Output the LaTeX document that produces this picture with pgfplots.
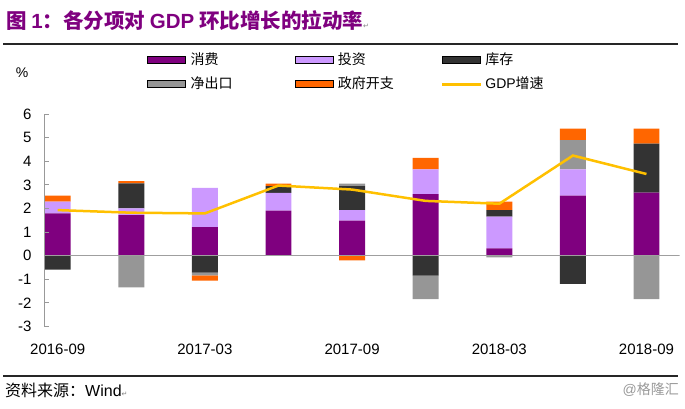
\documentclass[border=0pt]{standalone}
\usepackage{fontspec}
\setmainfont{Liberation Sans}
\newfontfamily\cjk{Noto Sans CJK SC}
\newfontfamily\dejavu{DejaVu Sans}
\usepackage{pgfplots}
\pgfplotsset{compat=1.18}
\usepackage{pgfplotstable}

\definecolor{cPur}{HTML}{7F007F}
\definecolor{cLav}{HTML}{CC99FF}
\definecolor{cDark}{HTML}{333333}
\definecolor{cGray}{HTML}{969696}
\definecolor{cOra}{HTML}{FF6600}
\definecolor{cYel}{HTML}{FFC000}

% contributions to q/q GDP growth, pos/neg parts split for stacking
\pgfplotstableread{
x cons inv invp invn nxp nxn govp govn gdp
0 1.79 0.50 0.00 -0.59 0.00  0.00 0.25  0.00 1.93
1 1.72 0.28 1.06  0.00 0.00 -1.34 0.10  0.00 1.82
2 1.21 1.66 0.00 -0.72 0.00 -0.11 0.00 -0.23 1.79
3 1.91 0.75 0.29  0.00 0.00  0.00 0.10  0.00 2.97
4 1.48 0.45 1.02  0.00 0.10  0.00 0.00 -0.20 2.80
5 2.61 1.05 0.00 -0.85 0.00 -0.99 0.48  0.00 2.32
6 0.31 1.34 0.28  0.00 0.00 -0.07 0.36  0.00 2.20
7 2.54 1.12 0.00 -1.19 1.23  0.00 0.49  0.00 4.24
8 2.67 0.00 2.08  0.00 0.00 -1.84 0.63  0.00 3.46
}\data

\pgfplotsset{
  base/.style={width=635.6pt, height=212.5pt, scale only axis,
    xmin=-0.186, xmax=8.45, ymin=-3, ymax=6,
    at={(44pt,81.5pt)}, anchor=south west},
  bars/.style={base, hide axis, ybar stacked, bar width=0.353},
  barleg/.style={legend image code/.code={\fill[##1] (0pt,-3.5pt) rectangle (38pt,3.5pt);}},
  lineleg/.style={legend image code/.code={\fill[cYel] (0pt,-1pt) rectangle (38pt,1pt);}},
}

\begin{document}
\begin{tikzpicture}
\useasboundingbox (0,0) rectangle (685pt,408pt);

% negative parts
\begin{axis}[bars]
\addplot[fill=cDark, draw=none] table[x=x, y=invn]{\data};
\addplot[fill=cGray, draw=none] table[x=x, y=nxn]{\data};
\addplot[fill=cOra, draw=none] table[x=x, y=govn]{\data};
\end{axis}

% positive parts
\begin{axis}[bars]
\addplot[fill=cPur, draw=none] table[x=x, y=cons]{\data};
\addplot[fill=cLav, draw=none] table[x=x, y=inv]{\data};
\addplot[fill=cDark, draw=none] table[x=x, y=invp]{\data};
\addplot[fill=cGray, draw=none] table[x=x, y=nxp]{\data};
\addplot[fill=cOra, draw=none] table[x=x, y=govp]{\data};
\end{axis}

% axes, zero line, GDP line, legend
\begin{axis}[base,
  axis lines*=left,
  x axis line style={draw=none},
  y axis line style={draw=gray!80, line width=0.8pt},
  xtick={0,2,4,6,8},
  xticklabels={2016-09,2017-03,2017-09,2018-03,2018-09},
  xtick style={draw=none},
  ytick={-3,...,6},
  ytick style={draw=gray!80, line width=0.8pt},
  tick align=inside, major tick length=5pt,
  /pgf/number format/assume math mode=true,
  tick label style={font=\fontsize{15}{18}\selectfont},
  xticklabel style={yshift=-14pt},
  yticklabel style={xshift=-9pt},
  legend columns=3, legend cell align=left,
  legend style={at={(0.162,1.294)}, anchor=north west, draw=none, fill=none,
    inner sep=0pt, row sep=9pt, font=\cjk\fontsize{14}{16}\selectfont,
    nodes={inner sep=1pt},
    /tikz/every odd column/.style={column sep=4pt},
    /tikz/column 2/.style={column sep=61pt},
    /tikz/column 4/.style={column sep=47pt}},
]
\addlegendimage{barleg, fill=cPur}
\addlegendimage{barleg, fill=cLav}
\addlegendimage{barleg, fill=cDark}
\addlegendimage{barleg, fill=cGray}
\addlegendimage{barleg, fill=cOra}
\addlegendimage{lineleg}
\addplot[forget plot, gray!75, line width=0.8pt] coordinates {(-0.186,0) (8.45,0)};
\addplot[forget plot, color=cYel, line width=2.5pt, mark=none] table[x=x, y=gdp]{\data};
\legend{消费, 投资, 库存, 净出口, 政府开支, {\rmfamily GDP}增速}
\end{axis}

% frame text and rules
\node[anchor=west, text=cPur, inner sep=0pt] at (6pt,387pt)
  {\fontsize{20.5}{24}\selectfont{\cjk\bfseries 图 }{\bfseries 1}{\cjk\bfseries ：各分项对 }{\bfseries GDP}{\cjk\bfseries\ 环比增长的拉动率}{\dejavu\color{gray}\fontsize{7}{8}\selectfont ↵}};
\draw[black!85, line width=1.2pt] (3pt,364pt) -- (678pt,364pt);
\node[anchor=center, inner sep=0pt] at (22pt,335pt) {\fontsize{14}{16}\selectfont \%};
\draw[black!85, line width=1.2pt] (3pt,32pt) -- (678pt,32pt);
\node[anchor=west, inner sep=0pt] at (5pt,18pt)
  {\fontsize{16}{18}\selectfont{\cjk 资料来源：}Wind{\dejavu\color{gray}\fontsize{7}{8}\selectfont ↵}};
\node[anchor=east, inner sep=0pt, text=gray!80] at (679pt,18pt)
  {\fontsize{14}{16}\selectfont @{\cjk 格隆汇}};
\end{tikzpicture}
\end{document}
